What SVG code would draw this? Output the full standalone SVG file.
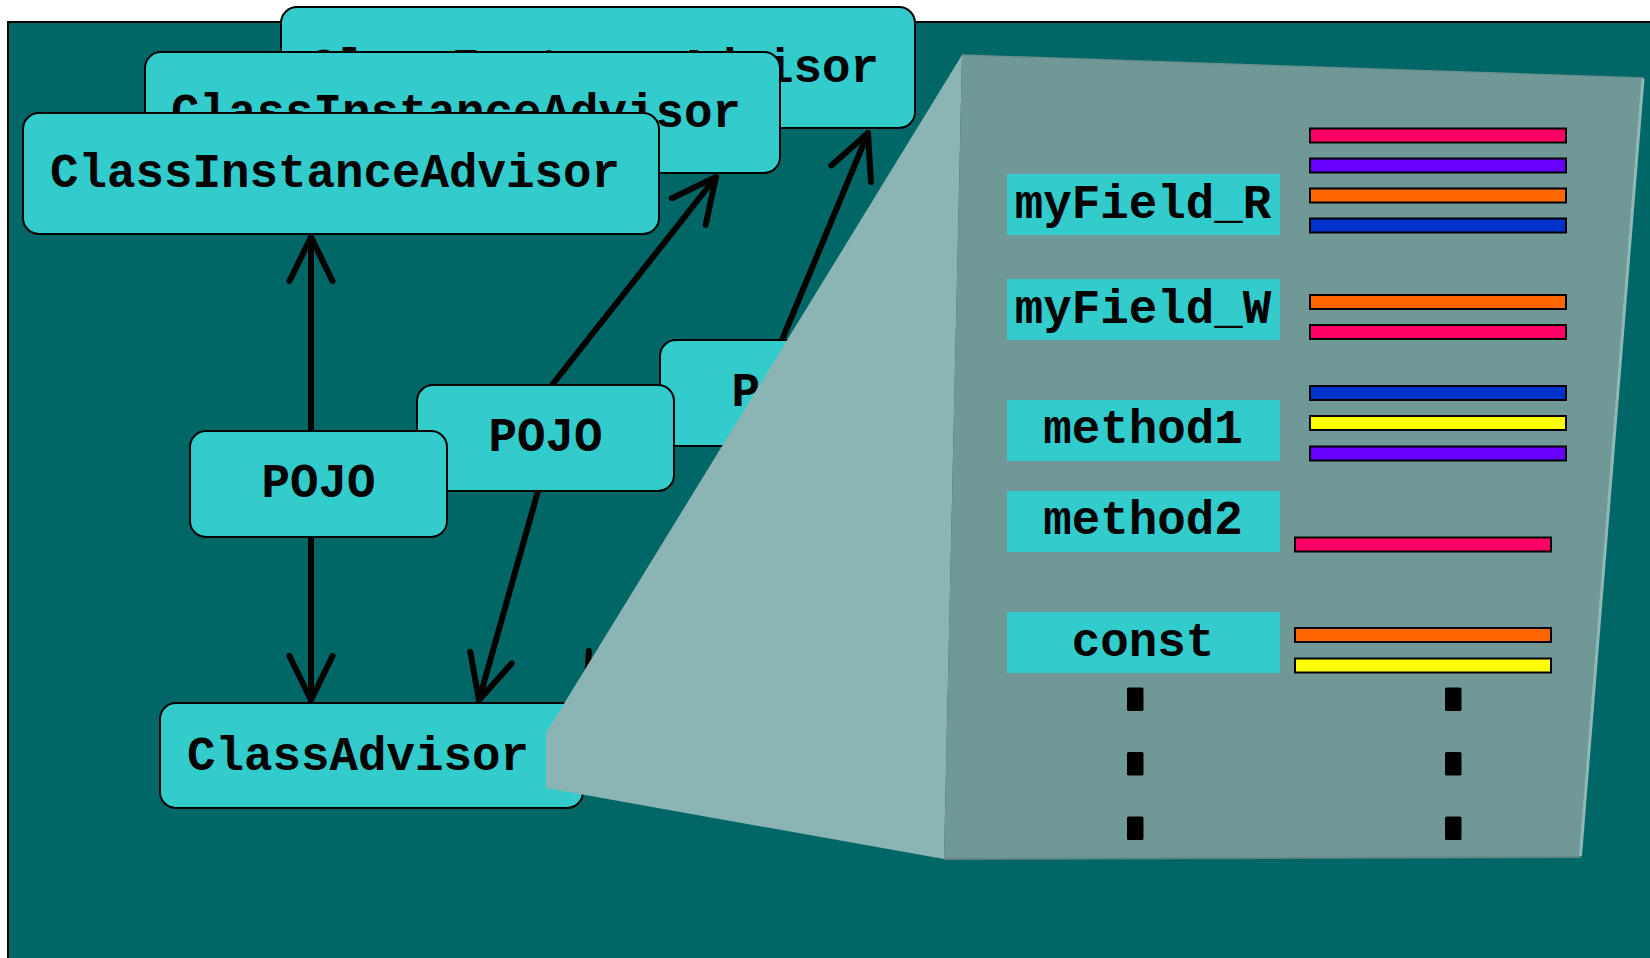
<svg xmlns="http://www.w3.org/2000/svg" width="1650" height="958" viewBox="0 0 1650 958">
<style>
.box{fill:#33CCCC;stroke:#000;stroke-width:2}
.t{font-family:"Liberation Mono","Courier New",monospace;font-weight:bold;font-size:47.5px;fill:#000}
.lbl{fill:#33CCCC}
.bar{stroke:#000;stroke-width:2}
.con{stroke:#000;stroke-width:6;fill:none;stroke-linecap:round}
.dot{fill:#000}
</style>
<defs>
<marker id="arr" markerUnits="userSpaceOnUse" markerWidth="60" markerHeight="60" viewBox="-50 -30 60 60" refX="0" refY="0" orient="auto" overflow="visible">
<path d="M-44,-21.5 L0,0 L-44,21.5" fill="none" stroke="#000" stroke-width="6" stroke-linecap="round" stroke-linejoin="round"/>
</marker>
</defs>
<rect x="0" y="0" width="1650" height="958" fill="#fff"/>
<rect x="8" y="22" width="1650" height="945" fill="#006666" stroke="#000" stroke-width="2"/>

<g id="connectors">
<line class="con" x1="311" y1="431" x2="311" y2="237" marker-end="url(#arr)"/>
<line class="con" x1="311" y1="537" x2="311" y2="700" marker-end="url(#arr)"/>
<line class="con" x1="552" y1="385" x2="716" y2="177" marker-end="url(#arr)"/>
<line class="con" x1="538" y1="491" x2="479" y2="700" marker-end="url(#arr)"/>
<line class="con" x1="782" y1="340" x2="868" y2="133" marker-end="url(#arr)"/>
<line class="con" x1="729" y1="446" x2="586" y2="700" marker-end="url(#arr)"/>
</g>

<g id="cia3">
<rect class="box" x="281" y="7" width="634" height="121" rx="16"/>
<text class="t" x="309" y="82">ClassInstanceAdvisor</text>
</g>
<g id="cia2">
<rect class="box" x="145" y="52" width="635" height="121" rx="16"/>
<text class="t" x="171" y="127">ClassInstanceAdvisor</text>
</g>
<g id="cia1">
<rect class="box" x="23" y="113" width="636" height="121" rx="16"/>
<text class="t" x="50" y="187">ClassInstanceAdvisor</text>
</g>

<g id="pojo3">
<rect class="box" x="660" y="340" width="257" height="106" rx="16"/>
<text class="t" x="788.5" y="406" text-anchor="middle">POJO</text>
</g>
<g id="pojo2">
<rect class="box" x="417" y="385" width="257" height="106" rx="16"/>
<text class="t" x="545.5" y="451" text-anchor="middle">POJO</text>
</g>
<g id="pojo1">
<rect class="box" x="190" y="431" width="257" height="106" rx="16"/>
<text class="t" x="318.5" y="497" text-anchor="middle">POJO</text>
</g>

<g id="classadvisor">
<rect class="box" x="160" y="703" width="423" height="105" rx="16"/>
<text class="t" x="187" y="770">ClassAdvisor</text>
</g>

<g id="zoompanel">
<polygon points="962,55 944,859 546,788 546,733" fill="#8AB5B4"/>
<polygon points="962,55 1644,78 1581,857 944,859" fill="#709896"/>
<line x1="962" y1="55" x2="1644" y2="78" stroke="#688f8d" stroke-width="1.5"/>
<line x1="944" y1="859" x2="1581" y2="857" stroke="#5f8684" stroke-width="2"/>
<line x1="1643" y1="79" x2="1580.5" y2="856" stroke="#8FB9B7" stroke-width="3"/>

<g id="myField_R">
<rect class="lbl" x="1007" y="174" width="273" height="61"/>
<text class="t" x="1143" y="218" text-anchor="middle" font-size="48">myField_R</text>
<rect class="bar" x="1310" y="128.5" width="256" height="14" fill="#FF0066"/>
<rect class="bar" x="1310" y="158.5" width="256" height="14" fill="#6600FF"/>
<rect class="bar" x="1310" y="188.5" width="256" height="14" fill="#FF6600"/>
<rect class="bar" x="1310" y="218.5" width="256" height="14" fill="#0033CC"/>
</g>
<g id="myField_W">
<rect class="lbl" x="1007" y="279" width="273" height="61"/>
<text class="t" x="1143" y="323" text-anchor="middle" font-size="48">myField_W</text>
<rect class="bar" x="1310" y="295" width="256" height="14" fill="#FF6600"/>
<rect class="bar" x="1310" y="325" width="256" height="14" fill="#FF0066"/>
</g>
<g id="method1">
<rect class="lbl" x="1007" y="400" width="273" height="61"/>
<text class="t" x="1143" y="443" text-anchor="middle" font-size="48">method1</text>
<rect class="bar" x="1310" y="386" width="256" height="14" fill="#0033CC"/>
<rect class="bar" x="1310" y="416" width="256" height="14" fill="#FFFF00"/>
<rect class="bar" x="1310" y="446.5" width="256" height="14" fill="#6600FF"/>
</g>
<g id="method2">
<rect class="lbl" x="1007" y="491" width="273" height="61"/>
<text class="t" x="1143" y="534" text-anchor="middle" font-size="48">method2</text>
<rect class="bar" x="1295" y="537.5" width="256" height="14" fill="#FF0066"/>
</g>
<g id="const">
<rect class="lbl" x="1007" y="612" width="273" height="61"/>
<text class="t" x="1143" y="656" text-anchor="middle" font-size="48">const</text>
<rect class="bar" x="1295" y="628" width="256" height="14" fill="#FF6600"/>
<rect class="bar" x="1295" y="658.5" width="256" height="14" fill="#FFFF00"/>
</g>
<g id="ellipsis">
<rect class="dot" x="1127" y="687.5" width="16.5" height="23.5" rx="1.5"/>
<rect class="dot" x="1127" y="752" width="16.5" height="23.5" rx="1.5"/>
<rect class="dot" x="1127" y="816.5" width="16.5" height="23.5" rx="1.5"/>
<rect class="dot" x="1445" y="687.5" width="16.5" height="23.5" rx="1.5"/>
<rect class="dot" x="1445" y="752" width="16.5" height="23.5" rx="1.5"/>
<rect class="dot" x="1445" y="816.5" width="16.5" height="23.5" rx="1.5"/>
</g>
</g>
</svg>
